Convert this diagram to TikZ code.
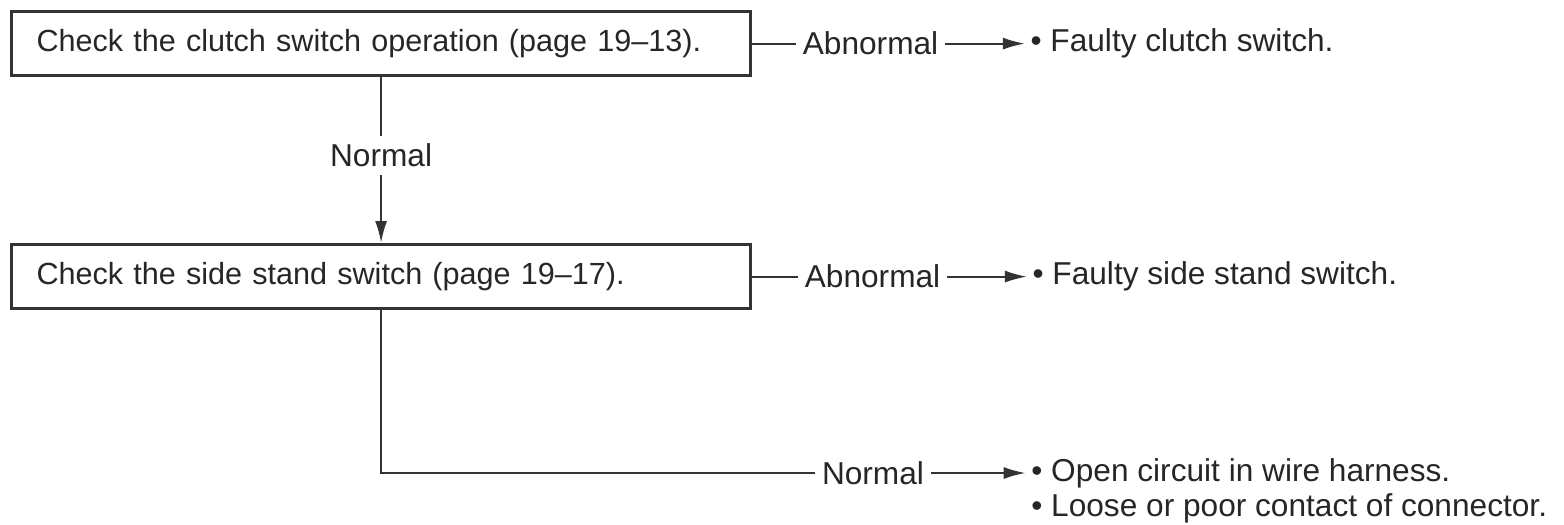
\documentclass[tikz,border=0pt]{standalone}
\usepackage{fontspec}
\setmainfont{Liberation Sans}
\usetikzlibrary{arrows.meta, positioning}

\begin{document}
\begin{tikzpicture}[>={Latex[length=0.22cm,width=0.12cm]},
    every node/.style={font=\fontsize{9}{11}\selectfont, text=black!85},
    checkbox/.style={draw=black!80, line width=0.9pt, minimum height=0.64cm, text width=6.89cm, inner xsep=0.25cm, align=left, anchor=north west, font=\fontsize{8.7}{10.5}\selectfont},
    lbl/.style={inner xsep=0.06cm, inner ysep=0.08cm, fill=white},
    result/.style={anchor=west, inner sep=0.05cm},
    line/.style={draw=black!80, line width=0.6pt}]
    \useasboundingbox (0,0) rectangle (15.64,-5.24);

    % Check boxes
    \node[checkbox] (clutch) at (0.10,-0.10) {Check the clutch switch operation (page 19--13).};
    \node[checkbox] (stand) at (0.10,-2.43) {Check the side stand switch (page 19--17).};

    % Labels on the branches
    \node[lbl, right=0.44cm of clutch] (ab1) {Abnormal};
    \node[lbl, right=0.46cm of stand] (ab2) {Abnormal};
    \node[lbl] (nm3) at (8.73,-4.73) {Normal};

    % Results
    \node[result, right=0.8cm of ab1] (res1) {• Faulty clutch switch.};
    \node[result, right=0.8cm of ab2] (res2) {• Faulty side stand switch.};
    \node[result, right=0.95cm of nm3] (wire) {• Open circuit in wire harness.};
    \node[result, below=0.35cm of wire.west, anchor=west] (conn) {• Loose or poor contact of connector.};

    % Connectors
    \draw[line, ->] (clutch.south) -- node[lbl, pos=0.47] (nm1) {Normal} (stand.north);
    \draw[line] (clutch.east) -- (ab1.west);
    \draw[line, ->] (ab1.east) -- (res1.west);
    \draw[line] (stand.east) -- (ab2.west);
    \draw[line, ->] (ab2.east) -- (res2.west);
    \draw[line] (stand.south) |- (nm3.west);
    \draw[line, ->] (nm3.east) -- (wire.west);
\end{tikzpicture}
\end{document}
